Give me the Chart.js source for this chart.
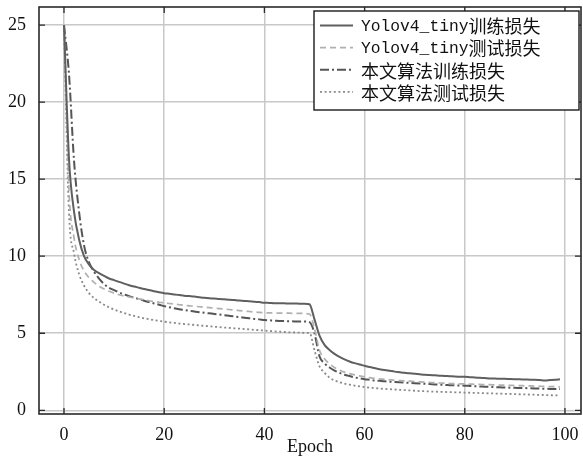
<!DOCTYPE html>
<html>
<head>
<meta charset="utf-8">
<script src="https://cdn.jsdelivr.net/npm/chart.js@4.4.1/dist/chart.umd.min.js"></script>
<style>
  html, body { margin: 0; padding: 0; background: #fff; }
  #wrap { width: 583px; height: 457px; }
</style>
</head>
<body>
<div id="wrap"><canvas id="lossChart" width="583" height="457"></canvas></div>
<script>
// ---------- DATA ----------
const epochs = Array.from({ length: 100 }, (_, i) => i);
const xTicks = [0, 20, 40, 60, 80, 100];
const yTicks = [0, 5, 10, 15, 20, 25];
const seriesLabels = ["Yolov4_tiny训练损失", "Yolov4_tiny测试损失", "本文算法训练损失", "本文算法测试损失"];

const yoloTrain = [
  25, 16.3, 12.9, 11.1, 10.0, 9.45, 9.1, 8.9, 8.72, 8.55,
  8.45, 8.33, 8.22, 8.12, 8.03, 7.95, 7.87, 7.8, 7.73, 7.66,
  7.6, 7.56, 7.52, 7.48, 7.44, 7.41, 7.38, 7.34, 7.3, 7.27,
  7.25, 7.22, 7.2, 7.18, 7.15, 7.12, 7.1, 7.07, 7.05, 7.02,
  6.98, 6.97, 6.95, 6.95, 6.94, 6.93, 6.93, 6.92, 6.92, 6.88,
  5.9, 4.85, 4.25, 3.92, 3.66, 3.46, 3.3, 3.17, 3.06, 2.97,
  2.89, 2.81, 2.74, 2.67, 2.61, 2.56, 2.51, 2.47, 2.43, 2.4,
  2.37, 2.34, 2.31, 2.29, 2.27, 2.25, 2.23, 2.21, 2.19, 2.18,
  2.17, 2.15, 2.13, 2.11, 2.09, 2.07, 2.06, 2.05, 2.04, 2.03,
  2.02, 2.01, 2.0, 1.99, 1.98, 1.96, 1.94, 1.96, 1.98, 2.02
];
const yoloTest = [
  25, 14.2, 11.2, 9.8, 9.05, 8.6, 8.3, 8.05, 7.87, 7.72,
  7.6, 7.5, 7.42, 7.35, 7.29, 7.23, 7.17, 7.11, 7.06, 7.01,
  6.97, 6.93, 6.89, 6.85, 6.81, 6.78, 6.75, 6.72, 6.69, 6.66,
  6.63, 6.6, 6.57, 6.54, 6.5, 6.47, 6.44, 6.41, 6.38, 6.35,
  6.33, 6.32, 6.31, 6.31, 6.3, 6.3, 6.29, 6.29, 6.28, 6.25,
  5.3, 3.9, 3.35, 3.02, 2.78, 2.61, 2.48, 2.38, 2.3, 2.23,
  2.17, 2.12, 2.08, 2.04, 2.01, 1.98, 1.95, 1.93, 1.91, 1.89,
  1.87, 1.85, 1.83, 1.81, 1.79, 1.77, 1.76, 1.74, 1.73, 1.72,
  1.71, 1.7, 1.69, 1.68, 1.67, 1.66, 1.65, 1.64, 1.63, 1.62,
  1.61, 1.6, 1.59, 1.58, 1.57, 1.56, 1.55, 1.54, 1.53, 1.52
];
const oursTrain = [
  25, 21.8, 16.2, 12.9, 10.7, 9.6, 9.0, 8.55, 8.2, 7.95,
  7.8, 7.65, 7.52, 7.41, 7.31, 7.21, 7.11, 7.02, 6.93, 6.85,
  6.76, 6.69, 6.62, 6.56, 6.51, 6.46, 6.41, 6.37, 6.33, 6.29,
  6.25, 6.21, 6.17, 6.13, 6.09, 6.05, 6.01, 5.97, 5.93, 5.9,
  5.86, 5.84, 5.82, 5.8, 5.79, 5.78, 5.77, 5.76, 5.76, 5.72,
  5.0, 3.5, 3.05, 2.78, 2.58, 2.43, 2.31, 2.22, 2.14, 2.07,
  2.02, 1.98, 1.94, 1.91, 1.88, 1.86, 1.84, 1.82, 1.8, 1.78,
  1.76, 1.74, 1.72, 1.7, 1.68, 1.66, 1.65, 1.63, 1.62, 1.61,
  1.6, 1.58, 1.56, 1.55, 1.53, 1.52, 1.5, 1.49, 1.48, 1.47,
  1.46, 1.45, 1.44, 1.43, 1.42, 1.41, 1.4, 1.39, 1.39, 1.38
];
const oursTest = [
  25, 12.8, 10.2, 8.85, 8.1, 7.6, 7.28, 7.05, 6.85, 6.68,
  6.54, 6.42, 6.31, 6.21, 6.12, 6.04, 5.97, 5.91, 5.85, 5.8,
  5.75, 5.71, 5.67, 5.63, 5.6, 5.57, 5.54, 5.51, 5.48, 5.45,
  5.42, 5.4, 5.37, 5.35, 5.32, 5.3, 5.27, 5.25, 5.22, 5.2,
  5.17, 5.15, 5.12, 5.1, 5.08, 5.06, 5.05, 5.04, 5.03, 5.02,
  3.9, 2.85, 2.45, 2.12, 1.94, 1.82, 1.73, 1.66, 1.6, 1.55,
  1.51, 1.47, 1.44, 1.41, 1.39, 1.37, 1.35, 1.33, 1.31, 1.29,
  1.27, 1.25, 1.24, 1.22, 1.21, 1.2, 1.19, 1.18, 1.17, 1.16,
  1.15, 1.14, 1.13, 1.12, 1.11, 1.1, 1.09, 1.08, 1.07, 1.06,
  1.05, 1.04, 1.03, 1.02, 1.01, 1.0, 0.99, 0.98, 0.97, 0.96
];

// ---------- STYLES ----------
const lineStyles = [
  { color: "#5f5f5f", width: 2,   dash: [] },
  { color: "#b0b0b0", width: 1.7, dash: [6, 4] },
  { color: "#555555", width: 2,   dash: [9, 3, 2, 3] },
  { color: "#8a8a8a", width: 1.8, dash: [2, 2.6] }
];
const SERIF = '"Liberation Serif", "DejaVu Serif", serif';

const allSeries = [yoloTrain, yoloTest, oursTrain, oursTest];
const datasets = allSeries.map((vals, i) => ({
  label: seriesLabels[i],
  data: vals.map((v, k) => ({ x: epochs[k], y: v })),
  borderColor: lineStyles[i].color,
  borderWidth: lineStyles[i].width,
  borderDash: lineStyles[i].dash,
  pointRadius: 0,
  fill: false,
  cubicInterpolationMode: "monotone"
}));

// draws latin runs in mono, CJK runs in Noto CJK
function drawMixed(ctx, text, x, y) {
  const runs = text.match(/[\x00-\x7f]+|[^\x00-\x7f]+/g) || [];
  runs.forEach(r => {
    ctx.font = /[\x00-\x7f]/.test(r) ? '16.3px "Liberation Mono", monospace' : '18px "Noto Sans CJK SC"';
    ctx.fillText(r, x, y);
    x += ctx.measureText(r).width;
  });
}

// ---------- FRAME + INWARD TICKS + BOXED LEGEND ----------
const framePlugin = {
  id: "framePlugin",
  afterDraw(chart) {
    const { ctx, chartArea: a, scales } = chart;
    ctx.save();
    ctx.strokeStyle = "#2a2a2a";
    ctx.lineWidth = 1.6;
    ctx.setLineDash([]);
    ctx.strokeRect(a.left, a.top, a.right - a.left, a.bottom - a.top);

    ctx.lineWidth = 1.3;
    const tl = 6;
    xTicks.forEach(v => {
      const px = scales.x.getPixelForValue(v);
      ctx.beginPath();
      ctx.moveTo(px, a.bottom); ctx.lineTo(px, a.bottom - tl);
      ctx.moveTo(px, a.top); ctx.lineTo(px, a.top + tl);
      ctx.stroke();
    });
    yTicks.forEach(v => {
      const py = scales.y.getPixelForValue(v);
      ctx.beginPath();
      ctx.moveTo(a.left, py); ctx.lineTo(a.left + tl, py);
      ctx.moveTo(a.right, py); ctx.lineTo(a.right - tl, py);
      ctx.stroke();
    });

    // legend box
    const bx = a.right - 267, by = a.top + 4, bw = 265, bh = 99;
    ctx.fillStyle = "#fff";
    ctx.fillRect(bx, by, bw, bh);
    ctx.strokeStyle = "#1a1a1a";
    ctx.lineWidth = 1.4;
    ctx.strokeRect(bx, by, bw, bh);

    ctx.textBaseline = "middle";
    ctx.textAlign = "left";
    chart.data.datasets.forEach((ds, i) => {
      const ry = by + 14.5 + i * 22.1;
      ctx.strokeStyle = ds.borderColor;
      ctx.lineWidth = ds.borderWidth;
      ctx.setLineDash(ds.borderDash);
      ctx.beginPath();
      ctx.moveTo(bx + 6, ry); ctx.lineTo(bx + 39, ry);
      ctx.stroke();
      ctx.setLineDash([]);
      ctx.fillStyle = "#111";
      drawMixed(ctx, ds.label, bx + 47, ry + 1);
    });
    ctx.restore();
  }
};

new Chart(document.getElementById("lossChart"), {
  type: "line",
  data: { datasets },
  options: {
    responsive: false,
    animation: false,
    devicePixelRatio: 1,
    layout: { padding: { top: 7, right: 2, left: 0, bottom: 0 } },
    plugins: { legend: { display: false }, tooltip: { enabled: false } },
    scales: {
      x: {
        type: "linear",
        min: -4.99,
        max: 103.2,
        afterBuildTicks: s => { s.ticks = xTicks.map(v => ({ value: v })); },
        afterFit: s => { s.height = 43; s.paddingLeft = 0; s.paddingRight = 0; },
        border: { display: false },
        grid: { color: "#c8c8c8", lineWidth: 1.5, drawTicks: false },
        ticks: { padding: 10, color: "#111", font: { family: SERIF, size: 18 }, maxRotation: 0 },
        title: { display: true, text: "Epoch", color: "#111", font: { family: SERIF, size: 18 }, padding: { top: 0, bottom: -1 } }
      },
      y: {
        type: "linear",
        min: -0.24,
        max: 26.17,
        afterBuildTicks: s => { s.ticks = yTicks.map(v => ({ value: v })); },
        afterFit: s => { s.width = 39; s.paddingTop = 0; s.paddingBottom = 0; },
        border: { display: false },
        grid: { color: "#c8c8c8", lineWidth: 1.5, drawTicks: false },
        ticks: { padding: 13, color: "#111", font: { family: SERIF, size: 18 } }
      }
    }
  },
  plugins: [framePlugin]
});
</script>
</body>
</html>
